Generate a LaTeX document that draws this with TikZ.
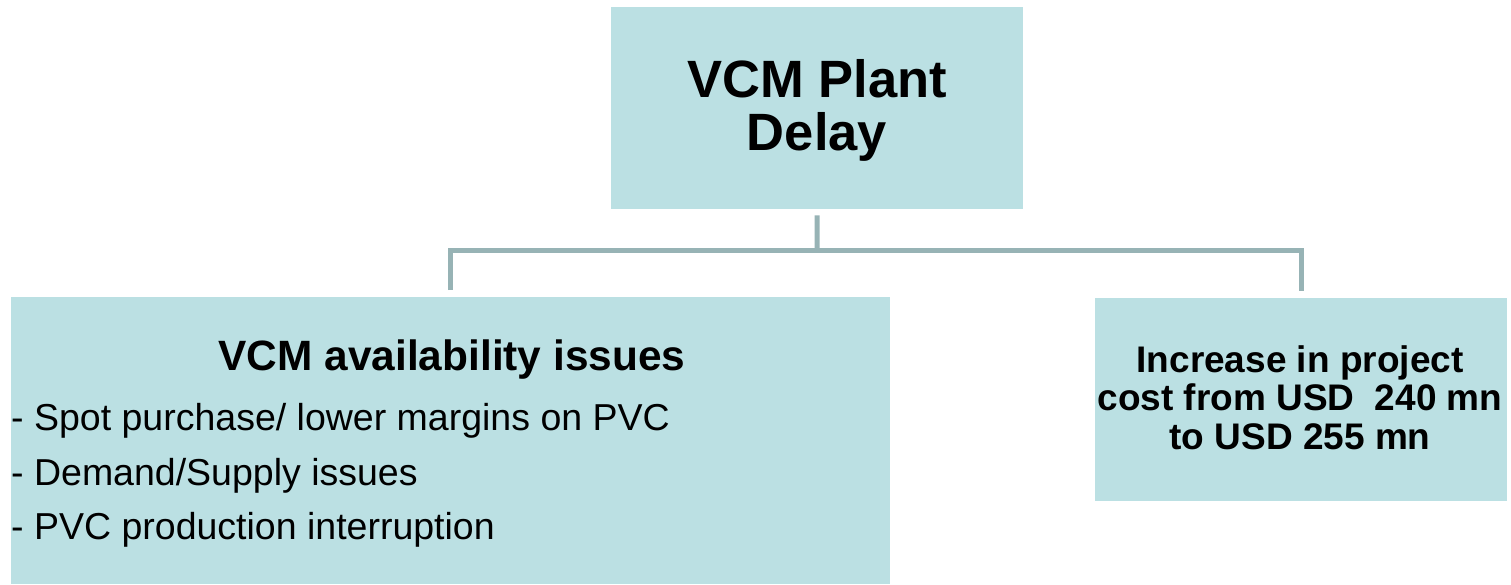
\documentclass[tikz,border=0pt]{standalone}
\usepackage{fontspec}
\setmainfont{Liberation Sans}
\definecolor{boxfill}{HTML}{BBE0E3}
\definecolor{linkgray}{HTML}{97B3B5}
\begin{document}
\begin{tikzpicture}[x=1pt,y=-1pt,
  box/.style={fill=boxfill,draw=none,inner sep=0pt,anchor=north west},
  conn/.style={draw=linkgray,line width=5pt,line join=miter},
  txt/.style={inner sep=0pt,anchor=base},
  bigbold/.style={font=\fontsize{52.5}{53}\selectfont\bfseries},
  headbold/.style={font=\fontsize{42.4}{48}\selectfont\bfseries},
  costbold/.style={font=\fontsize{37}{39}\selectfont\bfseries},
  item/.style={inner sep=0pt,anchor=base west,font=\fontsize{37.5}{40}\selectfont}]
\useasboundingbox (0,0) rectangle (1511,584);

% boxes
\node[box,minimum width=412pt,minimum height=202pt] (top) at (611,7) {};
\node[box,minimum width=879pt,minimum height=287pt] (left) at (11,297) {};
\node[box,minimum width=412pt,minimum height=203pt] (right) at (1095,298) {};

% connectors
\coordinate (j) at (817,250);
\draw[conn] ([yshift=-6pt]top.south) -- (j);
\draw[conn] ([yshift=7pt]left.north) |- (j) -| ([yshift=7pt]right.north);

% top box text
\node[txt,bigbold] (t1) at (817,97) {VCM Plant};
\node[txt,bigbold] (t2) at (817,150) {Delay};

% left box text
\node[txt,headbold] (h1) at (452,370) {VCM availability issues};
\node[item] (i1) at (11,430) {- Spot purchase/ lower margins on PVC};
\node[item] (i2) at (11,485) {- Demand/Supply issues};
\node[item] (i3) at (11,539) {- PVC production interruption};

% right box text
\node[txt,costbold] (c1) at (1300,372) {Increase in project};
\node[txt,costbold] (c2) at (1300,410) {cost from USD\ \ 240 mn};
\node[txt,costbold] (c3) at (1300,449) {to USD 255 mn};
\end{tikzpicture}
\end{document}
